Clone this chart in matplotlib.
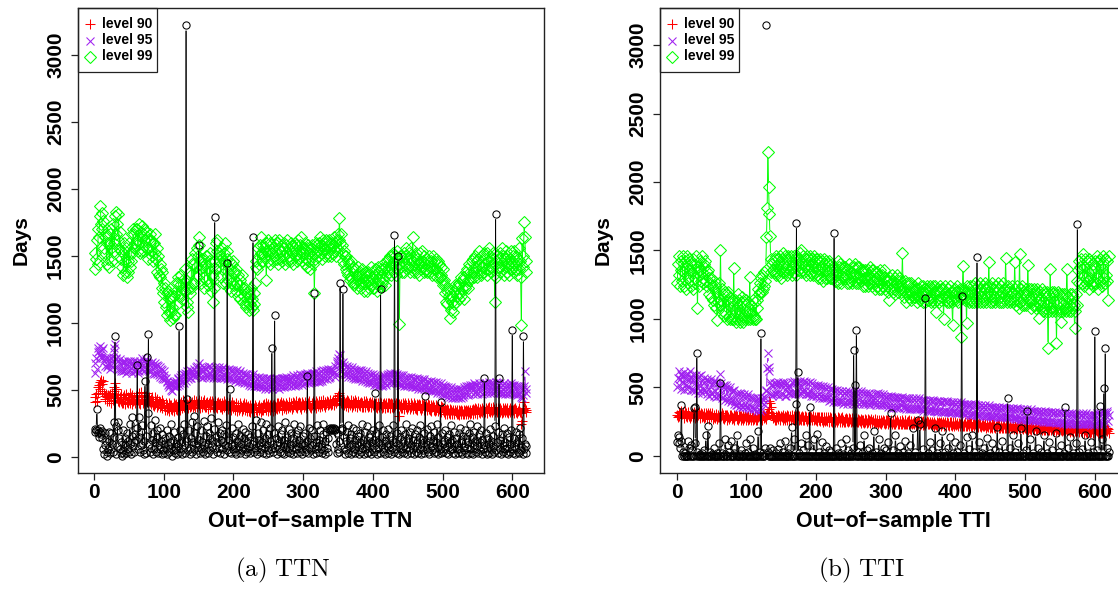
import numpy as np
import matplotlib
matplotlib.use("Agg")
import matplotlib.pyplot as plt
from matplotlib.lines import Line2D
from matplotlib.patches import Rectangle
from matplotlib.collections import LineCollection

plt.rcParams['font.family'] = ['Liberation Sans', 'DejaVu Sans']
plt.rcParams['mathtext.fontset'] = 'cm'

# ---------------- TTN panel data ----------------
ttn_observed = [
    210,190,200,362,180,205,150,220,190,170,195,140,60,20,90,180,120,40,10,60,
    190,120,30,180,60,100,40,260,150,900,230,20,80,260,200,140,60,30,110,10,
    200,50,20,140,90,30,180,120,60,40,250,100,20,160,300,80,110,40,170,130,
    220,690,60,300,150,40,90,190,240,50,120,20,570,160,30,745,330,920,100,40,
    70,240,130,20,180,60,280,110,40,200,150,30,90,220,60,120,20,170,50,100,
    30,140,60,200,20,90,160,40,110,250,70,10,130,50,190,30,100,60,20,150,
    80,980,40,200,110,20,170,60,250,90,30,3220,120,430,50,200,70,20,140,260,
    40,110,310,60,180,20,90,230,50,1580,130,30,200,70,110,40,270,90,20,160,
    60,230,100,30,180,50,140,290,80,20,120,210,1790,60,150,40,110,260,70,180,
    30,130,200,60,110,20,170,90,240,50,1450,80,130,40,510,100,30,220,60,150,
    90,40,180,20,120,60,250,80,30,160,100,50,210,70,140,20,190,60,110,40,
    170,80,30,150,60,230,100,1640,40,120,70,280,50,20,180,90,130,40,260,60,
    110,30,200,70,140,20,250,90,50,170,30,120,220,60,815,100,40,180,1057,70,
    140,20,90,230,60,110,40,170,30,200,80,130,20,260,60,100,150,40,210,70,
    30,180,90,50,140,20,250,110,60,170,30,200,80,130,40,230,60,100,20,160,
    90,40,180,60,120,607,30,220,70,140,50,200,90,20,160,1225,60,110,30,240,
    80,130,40,200,60,100,30,170,250,50,120,20,190,70,140,40,210,200,215,205,
    210,220,200,215,205,210,100,30,180,60,120,40,1300,210,200,215,1257,60,150,20,
    120,50,190,30,240,80,140,20,170,100,40,220,60,130,30,200,90,50,160,20,
    110,180,40,250,70,130,20,190,60,100,30,230,80,150,40,170,20,110,60,200,
    40,130,477,60,180,20,110,70,240,30,1250,90,150,40,200,60,120,20,170,80,
    30,210,100,50,160,20,130,70,240,40,1657,110,60,180,30,1500,90,20,150,60,
    200,40,120,80,30,170,60,250,20,110,140,50,190,30,90,220,60,130,20,170,
    80,40,200,110,30,150,60,240,20,130,90,50,180,30,455,100,60,210,40,120,
    20,160,80,230,50,130,30,190,70,110,40,250,20,150,90,60,412,30,180,100,
    40,120,60,200,30,150,80,20,170,110,50,240,60,130,30,190,80,20,140,60,
    100,30,180,60,220,40,120,20,160,80,50,200,30,140,70,110,20,180,60,250,
    30,150,90,20,190,60,120,40,230,80,30,170,110,50,200,20,130,60,90,592,
    40,180,70,20,140,100,30,210,60,120,20,160,80,40,230,1814,50,110,30,190,
    587,60,130,20,170,90,40,220,60,110,30,180,70,20,150,100,40,200,60,950,
    30,140,80,20,190,60,110,40,170,30,220,80,50,140,20,902,60,100,30,80,
]

ttn_level90 = [
    410,450,470,420,480,520,540,560,510,575,495,545,565,480,455,430,470,445,415,460,
    455,420,470,400,440,475,425,490,520,555,505,470,440,415,460,410,445,470,420,405,
    445,400,460,395,430,470,410,450,400,425,475,405,445,395,460,415,450,425,400,455,
    410,460,425,480,405,395,450,485,430,400,465,420,395,455,415,475,430,400,450,410,
    430,395,450,385,420,380,445,395,420,375,430,390,415,370,410,385,425,365,405,380,
    390,355,405,350,385,365,400,345,390,360,385,350,370,400,345,385,360,395,350,380,
    385,405,355,395,410,365,390,425,370,400,360,415,380,395,365,420,375,405,380,395,
    410,375,425,385,370,415,395,375,405,425,385,365,400,420,375,410,385,425,375,400,
    375,410,390,360,400,420,370,395,415,375,405,365,390,420,375,400,365,410,395,375,
    400,370,405,360,385,415,370,395,355,385,410,360,390,400,370,355,390,410,365,385,
    390,350,380,400,345,375,390,355,405,365,380,345,390,360,400,350,375,395,345,370,
    380,345,385,340,365,395,350,375,340,365,390,350,375,340,370,350,390,365,340,375,
    355,390,350,395,370,400,355,380,345,395,370,385,355,400,375,345,385,395,355,380,
    365,400,360,405,380,365,395,410,355,385,405,365,390,380,360,405,390,365,410,380,
    370,400,385,360,410,375,400,385,415,370,365,400,385,410,370,400,360,390,410,395,
    375,410,390,365,415,380,405,390,420,375,365,405,390,415,375,405,390,365,415,400,
    380,415,395,370,420,395,380,410,425,390,370,410,395,420,385,410,395,425,405,390,
    395,410,425,385,415,430,400,420,440,455,475,460,430,405,425,395,420,390,415,400,
    410,380,425,375,415,400,385,425,405,375,420,390,405,425,380,410,375,415,400,385,
    405,380,410,375,405,370,415,395,375,415,390,405,370,400,380,410,395,370,410,385,
    400,380,395,375,405,365,400,385,370,410,385,400,365,395,375,405,390,365,405,375,
    400,370,405,365,395,400,375,395,365,405,375,390,400,365,395,375,310,395,380,365,
    395,365,400,360,390,400,370,390,360,400,370,390,360,400,370,390,360,375,400,365,
    390,360,395,355,385,395,365,385,355,395,365,385,355,395,365,385,355,370,395,360,
    385,355,390,345,375,385,355,375,345,385,355,375,345,380,360,350,380,340,370,350,
    365,335,360,325,350,360,320,350,330,360,325,350,335,320,355,330,320,350,335,325,
    350,325,355,315,345,355,325,345,320,355,325,345,355,325,345,320,355,340,325,350,
    330,355,360,325,350,365,330,360,345,325,365,340,360,330,345,365,335,355,330,350,
    335,365,350,330,365,345,370,335,355,365,335,355,370,360,335,350,365,335,355,365,
    360,335,365,350,330,365,340,355,335,365,350,335,365,330,355,340,365,350,335,355,
    350,360,330,365,340,355,330,345,365,355,340,330,250,270,345,360,410,365,340,355,
]

ttn_level95 = [
    630,700,740,660,780,810,790,760,830,750,800,740,810,720,740,680,730,670,740,690,
    700,730,660,740,690,670,750,780,810,840,740,730,670,720,650,700,730,660,640,710,
    700,640,720,650,710,630,690,720,640,710,650,720,690,630,710,650,720,690,640,700,
    650,710,630,700,640,720,660,700,740,660,720,640,700,730,660,720,650,700,640,690,
    700,640,710,630,690,620,680,700,630,690,620,680,610,670,600,660,590,650,580,640,
    610,580,590,560,570,540,550,520,540,500,550,490,530,560,540,520,570,550,530,580,
    590,540,600,550,610,560,620,570,550,610,630,570,620,640,580,630,590,650,590,640,
    630,610,620,660,600,670,620,680,620,700,610,670,600,660,590,650,670,600,660,610,
    660,600,670,610,680,620,600,670,610,590,660,600,670,610,590,660,600,650,670,600,
    650,590,660,600,670,610,590,660,600,580,650,590,660,600,580,650,590,640,580,650,
    630,570,640,580,650,580,560,630,570,640,580,560,630,570,550,620,560,610,550,620,
    600,540,610,550,530,600,540,620,550,530,600,540,520,590,530,600,540,520,590,530,
    580,520,590,530,510,580,520,590,530,510,580,520,590,530,510,580,520,570,590,520,
    570,590,520,580,530,510,580,520,590,530,580,520,590,530,580,600,530,590,540,570,
    580,600,530,590,540,610,550,530,600,540,610,550,540,600,620,550,610,560,540,610,
    600,620,550,610,630,560,620,570,550,620,560,630,570,620,560,630,570,620,640,570,
    620,560,630,570,640,580,570,630,650,580,640,590,650,580,640,660,590,650,600,660,
    640,620,650,630,600,680,620,700,720,740,690,770,760,680,700,640,710,630,690,620,
    670,610,680,620,600,670,610,660,600,670,610,590,660,600,580,650,590,640,580,650,
    640,580,650,590,570,640,580,630,570,640,580,560,630,570,550,620,560,610,550,620,
    600,540,610,550,540,600,530,590,540,600,540,590,530,600,540,610,550,600,540,610,
    600,620,550,610,630,560,620,570,550,620,560,630,570,550,620,560,610,550,540,610,
    600,540,610,550,530,600,540,590,530,600,540,590,530,600,540,520,590,530,580,520,
    580,520,590,530,510,580,520,570,510,580,520,570,510,580,520,500,570,510,560,500,
    560,500,570,510,490,560,500,550,490,560,500,480,550,490,540,480,550,490,470,540,
    520,470,530,460,520,470,450,520,460,510,450,520,460,440,510,450,500,440,510,450,
    500,440,510,450,500,440,510,460,450,520,460,510,530,470,520,460,530,470,520,540,
    520,540,470,530,550,480,540,490,470,540,480,550,490,520,540,470,530,550,480,540,
    530,550,480,540,490,560,540,480,550,490,540,480,550,490,540,560,490,550,480,540,
    540,480,550,490,470,540,480,550,490,470,540,480,530,470,540,480,530,550,480,540,
    530,470,540,480,530,470,460,530,480,470,530,450,520,440,510,460,530,640,480,510,
]

ttn_level99 = [
    1400,1520,1480,1620,1440,1700,1640,1800,1870,1740,1820,1700,1760,1560,1640,1520,1660,1440,1600,1480,
    1600,1420,1660,1560,1700,1460,1740,1600,1540,1800,1830,1660,1740,1620,1810,1560,1680,1480,1540,1420,
    1520,1360,1600,1380,1460,1560,1340,1460,1380,1600,1420,1520,1460,1660,1520,1700,1560,1660,1600,1700,
    1620,1700,1540,1740,1600,1520,1680,1540,1720,1640,1700,1540,1620,1680,1560,1640,1480,1620,1560,1660,
    1540,1620,1500,1600,1460,1600,1520,1660,1480,1560,1380,1500,1360,1440,1340,1400,1260,1380,1220,1300,
    1160,1260,1120,1220,1060,1240,1080,1180,1020,1200,1080,1120,1040,1060,1200,1060,1240,1300,1140,1300,
    1340,1200,1280,1220,1360,1180,1260,1320,1240,1400,1240,1320,1120,1160,1080,1260,1220,1380,1260,1440,
    1480,1300,1440,1300,1520,1420,1560,1340,1500,1580,1640,1400,1460,1300,1480,1420,1340,1260,1440,1500,
    1320,1500,1280,1400,1460,1300,1520,1240,1360,1160,1340,1260,1460,1400,1600,1540,1620,1420,1520,1460,
    1500,1340,1560,1400,1300,1520,1460,1600,1300,1480,1540,1320,1260,1460,1400,1300,1240,1440,1380,1460,
    1280,1380,1240,1400,1300,1200,1360,1280,1180,1320,1220,1360,1160,1260,1200,1140,1260,1120,1220,1160,
    1240,1100,1200,1140,1260,1120,1180,1100,1220,1140,1300,1420,1460,1400,1560,1500,1440,1580,1520,1640,
    1520,1580,1460,1560,1500,1600,1320,1540,1620,1460,1540,1600,1440,1580,1520,1460,1560,1500,1620,1480,
    1580,1480,1600,1440,1560,1620,1480,1540,1580,1460,1560,1500,1600,1440,1580,1520,1620,1460,1560,1500,
    1480,1600,1460,1580,1520,1440,1560,1600,1500,1580,1460,1620,1480,1540,1580,1500,1640,1460,1560,1520,
    1560,1440,1600,1480,1560,1420,1580,1520,1460,1400,1560,1500,1580,1440,1520,1225,1480,1600,1540,1580,
    1540,1600,1500,1640,1520,1580,1480,1620,1540,1600,1500,1560,1620,1520,1580,1500,1620,1560,1600,1500,
    1600,1520,1580,1640,1540,1600,1500,1620,1560,1660,1620,1780,1600,1660,1520,1580,1460,1540,1440,1500,
    1400,1500,1380,1460,1360,1440,1320,1460,1340,1400,1300,1420,1280,1400,1300,1360,1260,1420,1320,1360,
    1300,1380,1260,1400,1300,1340,1240,1360,1300,1380,1240,1320,1380,1260,1360,1300,1420,1280,1340,1260,
    1380,1260,1400,1300,1340,1240,1420,1280,1380,1320,1275,1400,1300,1440,1320,1400,1280,1420,1360,1460,
    1400,1480,1380,1500,1420,1360,1500,1440,1520,1380,1460,1500,1360,1480,1540,1400,1440,995,1500,1420,
    1500,1380,1460,1520,1380,1500,1440,1560,1400,1480,1420,1520,1380,1480,1560,1420,1640,1460,1380,1500,
    1400,1520,1380,1480,1440,1360,1520,1460,1400,1540,1420,1460,1380,1500,1440,1400,1480,1380,1460,1420,
    1500,1380,1460,1420,1360,1500,1400,1460,1360,1480,1400,1340,1460,1380,1440,1340,1420,1360,1320,1400,
    1280,1320,1220,1280,1160,1240,1140,1260,1200,1035,1180,1100,1160,1200,1080,1240,1140,1280,1160,1260,
    1200,1280,1180,1300,1220,1340,1200,1260,1320,1180,1340,1260,1380,1280,1400,1320,1260,1440,1320,1380,
    1340,1460,1380,1480,1340,1420,1500,1380,1460,1340,1480,1540,1380,1440,1360,1500,1420,1380,1520,1440,
    1480,1400,1520,1360,1460,1560,1400,1500,1380,1480,1420,1520,1440,1360,1157,1460,1340,1500,1420,1480,
    1420,1520,1380,1460,1560,1400,1500,1360,1480,1420,1540,1380,1500,1440,1360,1480,1420,1540,1400,1460,
    1500,1380,1540,1440,1400,1500,1360,1480,1560,1400,1460,1340,982,1634,1420,1500,1754,1640,1460,1380,
]

# ---------------- TTI panel data (None = no observation) ----------------
tti_observed = [
    100,150,90,140,60,110,372,0,30,0,0,20,0,0,0,110,0,60,0,80,
    0,40,0,0,350,353,90,0,754,30,0,0,10,0,0,20,0,0,40,0,
    0,150,0,0,220,0,0,30,0,0,10,0,0,60,0,0,0,20,0,0,
    90,0,530,0,20,0,0,0,10,120,0,0,0,80,30,0,0,110,0,0,
    0,20,0,60,0,0,150,0,0,0,10,0,40,0,0,0,0,20,90,0,
    0,0,30,0,0,120,0,0,0,60,0,0,10,0,0,0,180,0,30,0,
    895,0,0,20,0,0,60,None,3146,None,30,0,0,60,0,0,0,40,0,0,
    0,20,0,0,0,50,0,0,90,0,0,0,30,0,0,110,0,0,0,20,
    0,0,60,0,210,0,0,0,120,0,380,1703,0,611,0,20,0,90,0,0,
    0,40,0,0,150,0,0,80,0,0,360,0,0,30,0,0,120,0,0,0,
    160,0,0,30,0,0,0,100,0,0,20,0,0,0,70,0,0,40,0,0,
    0,30,0,0,0,1630,0,0,60,0,0,20,0,0,0,90,0,0,10,0,
    0,0,120,0,0,40,0,0,0,20,0,0,60,774,0,518,0,920,0,30,
    0,0,80,0,0,20,0,0,150,0,0,0,40,0,0,60,0,0,0,20,
    0,0,180,0,0,30,0,0,0,120,0,0,20,0,0,0,60,0,0,40,
    0,0,0,100,0,0,316,0,0,40,0,0,0,150,0,0,20,0,0,0,
    70,0,0,0,30,0,0,110,0,0,0,20,0,0,80,0,0,0,200,0,
    0,30,0,0,0,260,0,0,230,0,0,0,50,0,0,0,1150,0,0,20,
    0,0,100,0,0,0,40,0,0,0,200,0,0,20,0,0,0,90,0,0,
    180,0,0,0,30,0,0,0,60,0,0,140,0,0,0,20,0,0,0,100,
    0,0,30,0,0,0,80,0,1170,0,0,20,0,0,0,140,0,0,0,50,
    0,0,0,150,0,0,30,0,0,0,1450,0,0,100,0,0,0,20,0,0,
    60,0,0,0,130,0,0,0,20,0,0,0,90,0,0,0,40,0,0,210,
    0,0,30,0,0,0,110,0,0,0,20,0,0,0,421,0,0,60,0,0,
    0,150,0,0,0,30,0,0,0,90,0,0,0,200,0,0,20,0,0,0,
    40,0,328,0,0,0,120,0,0,0,20,0,0,0,180,0,0,0,60,0,
    0,0,30,0,0,0,150,0,0,0,20,0,0,0,100,0,0,0,40,0,
    0,0,0,170,0,0,0,30,0,0,0,80,0,0,0,20,360,0,0,0,
    60,0,0,0,140,0,0,0,20,0,0,0,90,0,1693,0,0,30,0,0,
    0,50,0,0,0,150,0,0,0,20,0,0,0,100,0,0,0,30,0,910,
    0,0,40,0,0,0,367,0,0,120,0,0,494,0,786,0,0,60,0,30,
]

tti_level90 = [
    300,280,320,290,310,330,285,305,320,275,300,325,290,310,280,305,320,290,275,305,
    290,315,280,305,320,275,305,290,315,280,300,320,275,295,315,280,305,290,275,310,
    285,310,275,300,315,270,295,310,280,290,310,270,300,285,275,305,290,270,300,285,
    280,300,270,290,310,275,295,270,300,280,295,265,295,280,270,300,280,295,270,285,
    275,295,265,290,300,270,290,265,295,275,290,260,290,275,265,295,275,290,265,280,
    285,260,290,270,280,295,265,285,260,290,270,280,295,265,290,260,280,290,270,295,
    275,290,265,295,275,300,280,295,270,310,320,340,400,385,360,310,295,275,290,285,
    265,290,260,280,295,270,290,275,260,290,280,265,295,275,290,260,280,295,265,290,
    270,260,290,265,285,295,270,290,260,280,290,265,285,295,260,290,270,280,260,290,
    265,285,260,290,270,280,255,285,270,260,290,265,280,260,270,290,260,280,270,260,
    280,255,285,265,280,255,285,265,280,250,280,265,255,285,265,255,280,265,250,280,
    255,275,250,280,260,275,245,275,260,250,280,260,275,250,260,275,250,280,260,250,
    270,245,275,255,270,245,275,255,270,245,255,275,245,270,255,245,275,255,245,270,
    250,265,255,270,240,265,250,260,240,270,250,265,240,270,250,265,240,255,270,250,
    245,265,240,270,250,240,265,250,235,265,250,240,265,235,250,265,240,255,235,260,
    240,260,235,265,245,235,260,245,230,260,245,235,260,230,245,260,235,250,230,255,
    255,235,260,230,250,235,230,260,235,250,230,255,235,260,230,240,255,230,240,255,
    235,250,240,225,245,255,230,250,225,255,230,245,225,255,235,250,225,240,255,230,
    245,230,240,250,230,225,250,235,220,250,235,225,250,220,240,250,225,240,220,245,
    230,245,235,220,245,225,220,250,225,240,220,245,225,250,220,235,245,220,235,245,
    225,240,230,215,240,230,220,240,215,245,220,235,215,245,220,240,215,230,245,220,
    240,215,240,210,230,240,215,235,210,240,215,235,210,240,215,235,210,225,240,215,
    215,230,225,205,230,220,210,230,205,235,210,230,205,235,210,230,205,220,235,210,
    230,205,230,200,225,215,205,225,200,230,205,225,200,230,205,225,200,215,230,205,
    205,220,210,195,220,210,200,220,195,225,200,220,195,225,200,220,195,210,225,200,
    220,195,220,190,215,205,195,215,190,220,195,215,190,220,195,215,190,205,220,195,
    195,210,200,185,210,200,190,210,185,215,190,210,185,215,190,210,185,200,215,190,
    210,185,210,180,205,195,185,205,180,210,185,205,180,210,185,205,180,195,210,185,
    185,200,190,175,200,190,180,200,175,205,180,200,175,205,180,200,175,190,205,180,
    200,175,200,170,195,185,175,195,170,200,175,195,170,200,175,195,170,185,200,175,
    175,190,180,165,195,185,170,190,165,195,170,190,165,195,175,190,205,180,195,170,
]

tti_level95 = [
    500,570,620,520,560,600,490,580,530,610,480,590,520,570,490,600,510,560,620,480,
    570,490,600,480,560,530,470,590,500,560,460,580,510,480,590,460,550,490,570,480,
    540,470,560,450,550,490,440,540,460,560,450,530,440,550,470,430,540,460,530,440,
    510,600,440,530,420,510,430,520,410,490,520,420,500,400,480,420,500,390,470,410,
    470,380,480,400,370,460,370,450,390,360,460,370,450,360,440,360,450,380,360,440,
    430,350,450,370,430,340,420,360,340,420,350,420,340,400,330,390,420,340,400,330,
    390,420,340,410,380,430,420,480,470,640,754,652,617,540,450,520,440,510,450,530,
    460,530,450,520,540,460,440,520,530,450,520,540,450,530,440,520,440,500,530,460,
    510,460,500,450,540,460,530,550,460,450,530,460,540,470,450,530,550,460,510,470,
    540,470,550,470,450,540,460,450,530,450,540,470,440,530,460,440,520,450,510,440,
    510,440,520,450,420,510,440,500,420,510,440,420,500,430,490,420,500,430,400,490,
    480,410,490,420,390,480,410,470,390,480,410,390,470,400,460,390,470,400,380,460,
    460,390,470,400,380,460,400,470,390,460,400,380,460,390,450,380,460,400,390,470,
    450,380,460,390,470,400,380,460,390,450,380,460,390,450,380,460,390,370,450,390,
    440,410,380,450,390,370,450,380,460,390,370,450,380,440,370,450,380,440,370,430,
    430,370,440,360,430,370,440,360,430,370,350,430,360,420,350,430,360,420,350,420,
    410,370,400,430,360,350,420,360,340,420,350,410,340,420,350,410,340,350,420,350,
    410,340,420,350,340,410,350,420,340,410,350,340,410,330,400,340,410,350,330,400,
    400,330,410,340,330,400,340,410,330,400,340,330,400,320,390,330,400,340,320,390,
    390,320,400,330,320,390,330,400,320,390,330,320,390,310,380,320,390,330,310,380,
    380,310,390,320,310,380,320,390,310,380,320,310,380,300,370,310,380,320,300,370,
    370,300,380,310,300,370,310,380,300,370,310,300,370,290,360,300,370,310,290,360,
    360,290,370,300,290,360,300,370,290,360,300,290,360,280,350,290,360,300,280,350,
    350,280,360,290,280,350,290,360,280,350,290,280,350,275,340,280,350,290,275,340,
    340,275,350,280,270,340,280,350,270,340,280,270,340,265,330,270,340,280,265,330,
    330,265,340,270,260,330,270,340,260,330,270,260,330,255,320,260,330,270,255,320,
    320,255,330,260,250,320,260,330,250,320,260,250,320,245,310,250,320,260,245,310,
    310,245,320,250,240,310,250,320,240,310,250,240,310,235,300,240,310,250,235,300,
    305,240,315,245,235,305,245,315,235,305,245,235,305,230,295,235,305,245,230,295,
    300,235,310,240,230,300,240,310,230,300,240,230,300,225,290,230,300,240,225,295,
    300,240,310,245,230,305,245,315,235,305,245,230,320,300,300,240,310,330,255,295,
]

tti_level99 = [
    1260,1400,1460,1320,1240,1420,1360,1280,1460,1340,1240,1420,1220,1380,1460,1300,1260,1440,1360,1240,
    1400,1340,1440,1220,1400,1300,1260,1460,1340,1078,1380,1240,1420,1360,1280,1460,1340,1260,1400,1380,
    1420,1280,1340,1240,1360,1180,1300,1260,1160,1300,1240,1140,1280,1100,1240,1080,1200,993,1160,1120,
    1260,1100,1504,1140,1220,1060,1180,1020,1200,1040,1180,1000,1140,1200,1020,1160,1000,1120,1000,1140,
    1020,1372,1000,1140,980,1120,1000,1180,1020,1140,980,1120,1000,1160,1020,980,1120,1000,1140,1020,
    1060,1000,1120,1040,1309,1000,1100,1040,1000,1140,1020,1000,1120,1000,1140,1080,1220,1180,1260,1200,
    1300,1200,1320,1220,1340,1240,1280,1360,1600,1808,2219,1961,1770,1608,1440,1340,1400,1360,1420,1340,
    1440,1320,1460,1340,1400,1440,1320,1460,1360,1300,1440,1480,1340,1400,1460,1340,1380,1440,1320,1460,
    1340,1420,1360,1460,1320,1420,1380,1460,1340,1400,1440,1320,1460,1360,1400,1440,1480,1340,1500,1360,
    1400,1460,1340,1380,1440,1320,1460,1360,1400,1440,1320,1460,1340,1400,1440,1320,1460,1340,1380,1440,
    1320,1440,1300,1420,1360,1440,1300,1380,1420,1280,1400,1440,1300,1420,1360,1300,1400,1340,1420,1300,
    1360,1300,1400,1340,1300,1380,1280,1360,1320,1280,1420,1260,1380,1300,1400,1260,1380,1340,1300,1380,
    1300,1380,1320,1260,1360,1300,1260,1400,1280,1340,1380,1260,1320,1380,1280,1400,1260,1320,1380,1300,
    1260,1380,1300,1360,1280,1340,1240,1360,1300,1240,1360,1300,1280,1360,1240,1320,1380,1260,1300,1360,
    1240,1360,1280,1220,1340,1300,1240,1340,1280,1220,1320,1360,1260,1220,1320,1240,1360,1300,1220,1280,
    1300,1240,1280,1200,1139,1300,1220,1260,1320,1200,1280,1220,1300,1180,1260,1320,1200,1240,1300,1220,
    1280,1200,1240,1480,1220,1160,1280,1200,1120,1260,1180,1240,1160,1260,1200,1140,1260,1200,1220,1160,
    1240,1160,1220,1180,1120,1260,1160,1220,1140,1240,1160,1180,1120,1240,1200,1120,1220,1180,1240,1140,
    1220,1140,1240,1160,1120,1220,1140,1240,1200,1120,1240,1053,1200,1140,1220,1120,1200,1240,1140,1220,
    1160,1220,1000,1180,1240,1140,1200,1120,1220,1160,1120,1240,1140,1200,1120,956,1200,1140,1220,1160,
    1200,1140,1240,1120,1200,1160,1220,871,1160,1220,1387,1160,1220,1140,1200,968,1240,1140,1200,1120,
    1240,1140,1200,1120,1240,1180,1120,1260,1140,1220,1120,1240,1180,1140,1260,1120,1220,1160,1120,1240,
    1140,1220,1260,1120,1240,1160,1200,1418,1120,1240,1160,1120,1260,1140,1220,1160,1120,1240,1140,1200,
    1260,1120,1220,1160,1240,1120,1200,1260,1120,1220,1140,1443,1220,1120,1240,1140,1220,1120,1200,1140,
    1240,1120,1200,1140,1414,1220,1100,1240,1140,1200,1078,1474,1120,1220,1100,1240,1140,1200,1100,1180,
    1220,1100,1200,1394,1120,1220,1140,1080,1220,1120,1180,1100,1220,1100,1200,1080,1220,1120,1180,1005,
    1100,1200,1080,1220,1120,1060,1200,1080,1180,1060,1200,1100,791,1180,1060,1363,1080,1200,1060,1180,
    1080,1200,1060,1180,822,1100,1200,1060,1180,1080,1060,980,1180,1100,1060,1180,1080,1060,1180,1363,
    1080,1160,1060,1180,1100,1060,1180,1080,1160,1100,932,1060,1180,1100,1280,1360,1420,1260,1380,1440,
    1320,1260,1472,1380,1240,1440,1300,1260,1420,1280,1220,1440,1300,1260,1420,1360,1240,1400,1260,1380,
    1420,1260,1460,1300,1220,1420,1280,1440,1260,1400,1240,1460,1300,1260,1440,1320,1280,1420,1140,1460,
]

level_names = ["level 90", "level 95", "level 99"]
x_ticks = [0, 100, 200, 300, 400, 500, 600]
y_ticks = [0, 500, 1000, 1500, 2000, 2500, 3000]

W, H = 1118, 603
fig = plt.figure(figsize=(W / 100, H / 100), dpi=100)


def fx(px):
    return px / W


def fy(py):
    return 1 - py / H


STYLES = [
    dict(color="#FF0000", marker="+", ms=7.5, mew=0.75),
    dict(color="#A020F0", marker="x", ms=5.8, mew=0.75),
    dict(color="#00FF00", marker="D", ms=6.0, mew=0.75),
]

GAP_PX = 5.5  # clearance left around each point by the connecting lines


def gapped_lines(ax, x, y, color, lw, zorder):
    """Connect consecutive points, leaving a small gap around every point."""
    pts = ax.transData.transform(np.column_stack([x, y]))
    d = pts[1:] - pts[:-1]
    length = np.hypot(d[:, 0], d[:, 1])
    keep = np.isfinite(length) & (length > 2 * GAP_PX)
    u = d[keep] / length[keep][:, None]
    a = pts[:-1][keep] + GAP_PX * u
    b = pts[1:][keep] - GAP_PX * u
    inv = ax.transData.inverted()
    segs = np.stack([inv.transform(a), inv.transform(b)], axis=1)
    ax.add_collection(LineCollection(segs, colors=color, linewidths=lw, zorder=zorder))


def panel(left_px, observed, levels, xlabel, caption, caption_x, days_x):
    ax = fig.add_axes([fx(left_px), fy(473), 466 / W, 465 / H])
    obs = np.array([np.nan if v is None else v for v in observed], float)
    allv = np.concatenate([obs] + [np.asarray(s, float) for s in levels])
    lo, hi = np.nanmin(allv), np.nanmax(allv)
    n = len(obs)
    ax.set_xlim(1 - 0.04 * (n - 1), n + 0.04 * (n - 1))
    ax.set_ylim(lo - 0.04 * (hi - lo), hi + 0.04 * (hi - lo))

    for series, st in zip(levels, STYLES):
        xs = np.arange(1, len(series) + 1)
        ys = np.asarray(series, float)
        gapped_lines(ax, xs, ys, st["color"], 0.7, 2)
        ax.plot(xs, ys, ls="none", color=st["color"], marker=st["marker"],
                ms=st["ms"], mew=st["mew"], mfc="none", zorder=2)
    xo = np.arange(1, n + 1)
    gapped_lines(ax, xo, obs, "black", 0.7, 3)
    ax.plot(xo, obs, ls="none", color="black", marker="o", ms=5.2,
            mew=0.75, mfc="none", zorder=3)

    ax.set_xticks(x_ticks)
    ax.set_yticks(y_ticks)
    ax.tick_params(direction="out", length=5, width=0.9, labelsize=15, color="#222222")
    ax.tick_params(axis="x", pad=2.5)
    ax.tick_params(axis="y", pad=4)
    for lab in ax.get_xticklabels():
        lab.set_fontweight("bold")
    for lab in ax.get_yticklabels():
        lab.set_fontweight("bold")
        lab.set_rotation(90)
        lab.set_va("center")
    for sp in ax.spines.values():
        sp.set_color("#222222")
        sp.set_linewidth(1.0)

    # legend box in the upper left corner
    fig.add_artist(Rectangle((fx(left_px), fy(72)), 79 / W, 64 / H,
                             transform=fig.transFigure, fill=False,
                             ec="#222222", lw=0.9))
    for name, st, yy in zip(level_names, STYLES, [24, 40.5, 56.5]):
        fig.add_artist(Line2D([fx(left_px + 12)], [fy(yy)], transform=fig.transFigure,
                              color=st["color"], marker=st["marker"], ms=st["ms"],
                              mew=st["mew"], mfc="none", ls="none"))
        fig.text(fx(left_px + 24), fy(yy), name, fontsize=10, fontweight="bold",
                 va="center", ha="left")

    fig.text(fx(days_x), fy(240), "Days", rotation=90, fontsize=15,
             fontweight="bold", ha="center", va="center")
    fig.text(fx(left_px + 233), fy(521), xlabel, fontsize=15.5,
             fontweight="bold", ha="center", va="center")
    fig.text(fx(caption_x), fy(570), caption, fontsize=18, ha="center", va="center")
    return ax


panel(77.5, ttn_observed, [ttn_level90, ttn_level95, ttn_level99],
      "Out\u2212of\u2212sample TTN", r"$\mathrm{(a)\ TTN}$", 283, 21)
panel(660, tti_observed, [tti_level90, tti_level95, tti_level99],
      "Out\u2212of\u2212sample TTI", r"$\mathrm{(b)\ TTI}$", 862, 603)

fig.savefig("out.png", dpi=100)
